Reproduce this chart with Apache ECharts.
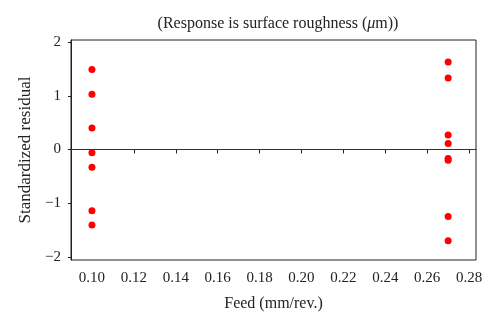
<!DOCTYPE html>
<html><head><meta charset="utf-8">
<script src="https://cdn.jsdelivr.net/npm/echarts@6/dist/echarts.min.js"></script>
<style>html,body{margin:0;padding:0;background:#fff}#c{width:500px;height:328px}</style>
</head><body><div id="c"></div>
<script>
var feedLow = 0.10;
var feedHigh = 0.27;
var residLow = [1.49, 1.03, 0.40, -0.06, -0.33, -1.14, -1.41];
var residHigh = [1.63, 1.33, 0.27, 0.11, -0.17, -0.20, -1.25, -1.70];
var xTicks = [0.10, 0.12, 0.14, 0.16, 0.18, 0.20, 0.22, 0.24, 0.26, 0.28];
var yTicks = [-2, -1, 0, 1, 2];

var pts = residLow.map(function(v){return [feedLow, v];})
  .concat(residHigh.map(function(v){return [feedHigh, v];}));
var font = 'Liberation Serif';
var chart = echarts.init(document.getElementById('c'));
chart.setOption({
  animation: false,
  title: {
    text: '(Response is surface roughness ({i|μ}m))',
    left: 273, top: 11, textAlign: 'center',
    textStyle: {fontFamily: font, fontSize: 16, fontWeight: 'normal', color: '#222',
      rich: {i: {fontStyle: 'italic', fontFamily: font, fontSize: 16, color: '#222'}}}
  },
  grid: {left: 71, right: 24, top: 40, bottom: 68, show: true, borderColor: '#222', borderWidth: 1},
  xAxis: {
    type: 'value', min: 0.09, max: 0.2833,
    name: 'Feed (mm/rev.)', nameLocation: 'middle', nameGap: 36,
    nameTextStyle: {fontFamily: font, fontSize: 16, color: '#222'},
    splitLine: {show: false},
    axisLine: {show: true, lineStyle: {color: '#222'}},
    axisTick: {show: true, length: 4, lineStyle: {color: '#222'},
      customValues: xTicks},
    axisLabel: {fontFamily: font, fontSize: 15, color: '#222', margin: 11,
      customValues: xTicks,
      formatter: function(v){return v.toFixed(2);}}
  },
  yAxis: {
    type: 'value', min: -2.06, max: 2.04,
    name: 'Standardized residual', nameLocation: 'middle', nameGap: 34,
    nameTextStyle: {fontFamily: font, fontSize: 17, color: '#222'},
    splitLine: {show: false},
    axisLine: {show: true, lineStyle: {color: '#222'}},
    axisTick: {show: true, length: 3, lineStyle: {color: '#222'}, customValues: yTicks},
    axisLabel: {fontFamily: font, fontSize: 15, color: '#222', margin: 10,
      customValues: yTicks,
      formatter: function(v){return String(v).replace('-', '\u2212');}}
  },
  series: [{
    type: 'scatter', data: pts, symbolSize: 7,
    itemStyle: {color: '#ff0000', opacity: 1},
    markLine: {silent: true, symbol: 'none', label: {show: false},
      lineStyle: {color: '#333', type: 'solid', width: 1},
      data: [{yAxis: 0}]}
  }]
});
</script></body></html>
